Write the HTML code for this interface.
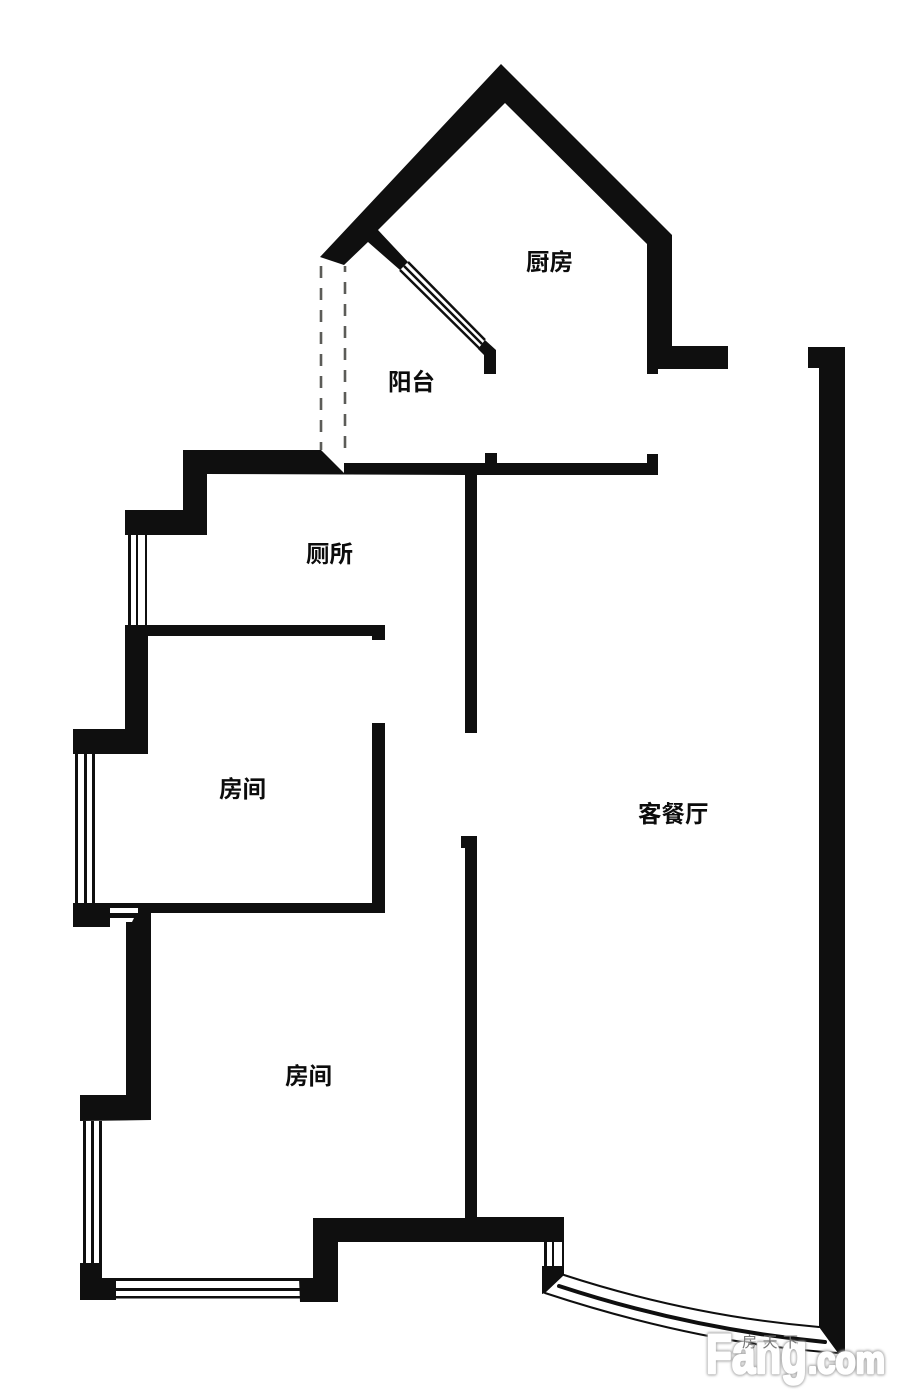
<!DOCTYPE html>
<html lang="zh">
<head>
<meta charset="utf-8">
<title>户型图</title>
<style>
html,body{margin:0;padding:0;background:#fff;}
svg{display:block;}
.l{font-family:"Liberation Sans","Noto Sans CJK SC",sans-serif;font-size:23.5px;font-weight:700;fill:#0c0c0c;}
.ws{font-family:"Liberation Sans",sans-serif;font-weight:700;fill:#aaa;stroke:#aaa;stroke-width:5px;stroke-linejoin:round;}
.w{font-family:"Liberation Sans",sans-serif;font-weight:700;fill:#fff;stroke:#fff;stroke-width:2.6px;stroke-linejoin:round;}
</style>
</head>
<body>
<svg width="903" height="1400" viewBox="0 0 903 1400" xmlns="http://www.w3.org/2000/svg">
<defs><filter id="b" x="-10%" y="-20%" width="120%" height="140%"><feGaussianBlur stdDeviation="1.2"/></filter></defs>
<rect width="903" height="1400" fill="#fff"/>
<g fill="#0f0f0f">
<!-- kitchen roof -->
<path d="M501 64 L672 235 L672 346 L728 346 L728 369 L658 369 L658 374 L647 374 L647 244 L505 103 L378 230 L408 262 L400 270 L368 242 L344 265 L320 257 Z"/>
<!-- diagonal wall end -->
<path d="M485 340 L496 350 L496 374 L484 374 L484 355 L478 349 Z"/>
<!-- top horizontal wall -->
<path d="M183 450 L321 450 L344 473 L344 463 L485 463 L485 453 L497 453 L497 463 L647 463 L647 454 L658 454 L658 475 L477 475 L477 733 L465 733 L465 475 L207 474 L207 535 L125 535 L125 510 L183 510 Z"/>
<!-- toilet / room wall -->
<path d="M125 625 L385 625 L385 640 L372 640 L372 636 L148 636 L148 754 L73 754 L73 729 L125 729 Z"/>
<!-- room walls -->
<path d="M73 903 L95 903 L372 903 L372 723 L385 723 L385 913 L151 913 L151 1120 L80 1121 L80 1095 L126 1095 L126 922 L110 922 L110 927 L73 927 Z"/>
<!-- bottom-left block -->
<path d="M80 1263 L102 1263 L102 1278 L116 1278 L116 1300 L80 1300 Z"/>
<path d="M299 1278 L313 1278 L313 1218 L465 1218 L465 848 L461 848 L461 836 L477 836 L477 1217 L564 1217 L564 1242 L338 1242 L338 1302 L300 1302 Z"/>
<!-- lower right block -->
<path d="M542 1266 L564 1266 L564 1275 L545 1293 L542 1294 Z"/>
<!-- right wall -->
<path d="M808 347 L845 347 L845 1353 L838 1353 L819 1327 L819 368 L808 368 Z"/>
<!-- windows: vertical lines -->
<rect x="128" y="535" width="3" height="90"/><rect x="136" y="535" width="2" height="90"/><rect x="145" y="535" width="2" height="90"/>
<rect x="75" y="754" width="3" height="149"/><rect x="84" y="754" width="3" height="149"/><rect x="92" y="754" width="3" height="149"/>
<rect x="83" y="1121" width="3" height="142"/><rect x="91" y="1121" width="3" height="142"/><rect x="99" y="1121" width="3" height="142"/>
<rect x="544" y="1242" width="3" height="24"/><rect x="552" y="1242" width="2" height="24"/><rect x="562" y="1242" width="2" height="24"/>
<!-- bottom window lines -->
<rect x="102" y="1278" width="200" height="3"/><rect x="116" y="1288" width="184" height="3"/><rect x="116" y="1296" width="184" height="2.5"/>
</g>
<!-- slits -->
<rect x="110" y="908" width="28" height="5" fill="#fff"/>
<path d="M110 918 L134 918 L132 922 L110 922 Z" fill="#fff"/>
<!-- diagonal kitchen window -->
<g stroke="#0f0f0f" stroke-width="2.5" fill="none">
<line x1="400" y1="270" x2="480" y2="349"/>
<line x1="408" y1="262" x2="485" y2="340"/>
<line x1="404" y1="266" x2="482" y2="344"/>
</g>
<!-- curved window -->
<g fill="none" stroke="#0f0f0f" stroke-linecap="round">
<path d="M564 1275 Q690 1316 819 1327" stroke-width="2"/>
<path d="M545 1293 Q700 1344 838 1353" stroke-width="2"/>
<path d="M559 1286 Q690 1329 825 1342" stroke-width="4"/>
</g>
<!-- balcony dashes -->
<g stroke="#5c5c58" stroke-width="2.6" fill="none" stroke-dasharray="12 10">
<line x1="321" y1="266" x2="321" y2="450"/>
<line x1="345" y1="266" x2="345" y2="452" stroke-dashoffset="6"/>
</g>
<!-- labels -->
<text class="l" x="526" y="270">厨房</text>
<text class="l" x="388" y="390">阳台</text>
<text class="l" x="306" y="562">厕所</text>
<text class="l" x="219" y="797">房间</text>
<text class="l" x="285" y="1084">房间</text>
<text class="l" x="638" y="822">客餐厅</text>
<!-- watermark -->
<g filter="url(#b)">
<text class="ws" x="706" y="1373" font-size="56" textLength="101" lengthAdjust="spacingAndGlyphs">Fang</text>
<text class="ws" x="808" y="1373" font-size="38" textLength="77" lengthAdjust="spacingAndGlyphs">.com</text>
</g>
<text class="w" x="706" y="1373" font-size="56" textLength="101" lengthAdjust="spacingAndGlyphs">Fang</text>
<text class="w" x="808" y="1373" font-size="38" textLength="77" lengthAdjust="spacingAndGlyphs">.com</text>
<text x="742" y="1347" font-family="'Liberation Sans','Noto Sans CJK SC',sans-serif" font-size="15" fill="#777" textLength="56">房天下</text>
</svg>
</body>
</html>
